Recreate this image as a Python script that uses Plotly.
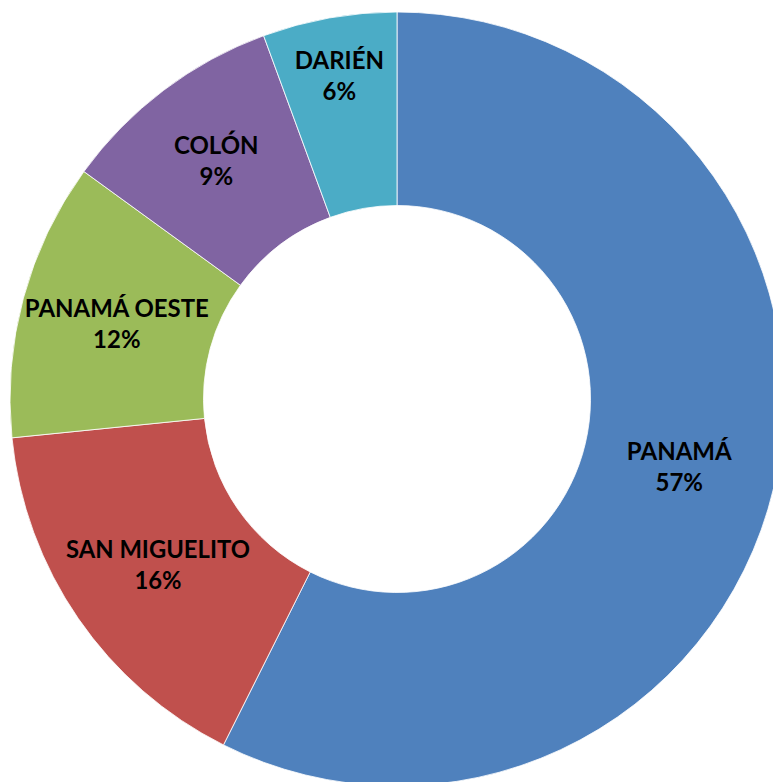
import plotly.graph_objects as go

labels = ["PANAMÁ", "SAN MIGUELITO", "PANAMÁ OESTE", "COLÓN", "DARIÉN"]
values = [57.4, 16.0, 11.6, 9.4, 5.6]
colors = ["#4F81BD", "#C0504D", "#9BBB59", "#8064A2", "#4BACC6"]

fig = go.Figure(go.Pie(
    labels=labels,
    values=values,
    hole=0.5,
    sort=False,
    direction="clockwise",
    rotation=0,
    marker=dict(colors=colors, line=dict(color="rgba(255,255,255,0.8)", width=1)),
    texttemplate="<b>%{label}<br>%{percent:.0%}</b>",
    textposition="inside",
    insidetextorientation="horizontal",
    textfont=dict(family="Lato", size=24, color="black"),
    showlegend=False,
    hoverinfo="label+percent",
))

fig.update_layout(
    width=784,
    height=786,
    margin=dict(l=10, t=12, r=0, b=0),
    paper_bgcolor="white",
    plot_bgcolor="white",
)

fig.write_html(
    "out.html",
    config={"displayModeBar": False},
    post_script="document.body.style.margin='0';document.body.style.overflow='hidden';",
)
